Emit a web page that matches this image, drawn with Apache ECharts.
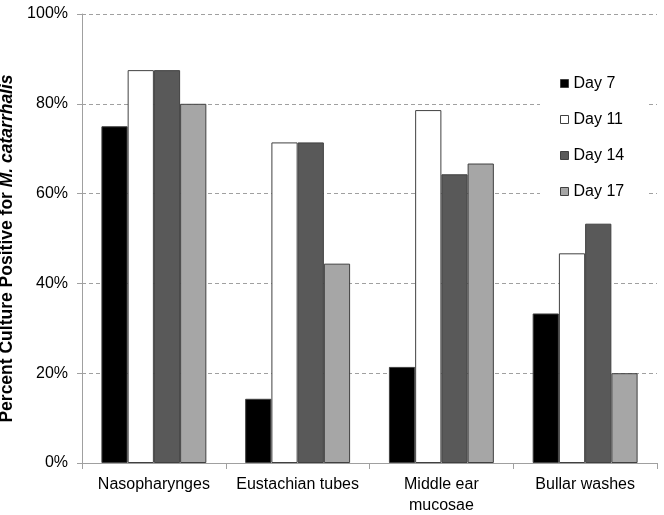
<!DOCTYPE html>
<html><head><meta charset="utf-8">
<script src="https://cdn.jsdelivr.net/npm/echarts@6/dist/echarts.min.js"></script>
<style>html,body{margin:0;padding:0;background:#fff}#c{width:664px;height:515px}</style>
</head><body><div id="c"></div>
<script>
const categories = ['Nasopharynges', 'Eustachian tubes', 'Middle ear\nmucosae', 'Bullar washes'];
const seriesNames = ['Day 7', 'Day 11', 'Day 14', 'Day 17'];
const day7 = [75.0, 14.3, 21.4, 33.3];
const day11 = [87.5, 71.4, 78.6, 46.7];
const day14 = [87.5, 71.4, 64.3, 53.3];
const day17 = [80.0, 44.4, 66.7, 20.0];
const yTicks = [0, 20, 40, 60, 80, 100];

const colors = ['#000000', '#ffffff', '#595959', '#a6a6a6'];
const values = [day7, day11, day14, day17];
const FONT = '"Liberation Sans", Arial, sans-serif';

const chart = echarts.init(document.getElementById('c'), null, {renderer: 'canvas'});
chart.setOption({
  animation: false,
  backgroundColor: '#fff',
  grid: {left: 82, right: 7, top: 14, bottom: 52, containLabel: false, outerBoundsMode: 'none'},
  legend: {
    orient: 'vertical', left: 540, top: 73,
    itemWidth: 8, itemHeight: 8, itemGap: 19, itemTextGap: 4,
    backgroundColor: '#fff', padding: [2, 22, 2, 20],
    textStyle: {fontFamily: FONT, fontSize: 16, color: '#000', height: 17, lineHeight: 17},
    data: seriesNames.map((n, i) => ({name: n, icon: 'rect', itemStyle: {color: colors[i], borderColor: '#404040', borderWidth: 1}}))
  },
  xAxis: {
    type: 'category', data: categories,
    axisLine: {lineStyle: {color: '#a0a0a0', width: 1}},
    axisTick: {show: true, length: 6, lineStyle: {color: '#a0a0a0'}},
    axisLabel: {interval: 0, fontFamily: FONT, fontSize: 16, color: '#000', margin: 11, lineHeight: 21}
  },
  yAxis: {
    type: 'value', min: 0, max: 100, interval: 20,
    name: '{b|Percent Culture Positive for }{bi|M. catarrhalis}',
    nameLocation: 'middle', nameGap: 61, nameRotate: 90,
    nameTextStyle: {padding: [0, 20, 0, 0], rich: {
      b: {fontFamily: FONT, fontSize: 17.5, fontWeight: 'bold', color: '#000'},
      bi: {fontFamily: FONT, fontSize: 17.5, fontWeight: 'bold', fontStyle: 'italic', color: '#000'}
    }},
    axisLine: {show: true, lineStyle: {color: '#a0a0a0', width: 1}},
    axisTick: {show: true, length: 5, lineStyle: {color: '#a0a0a0'}},
    axisLabel: {fontFamily: FONT, fontSize: 16, color: '#000', margin: 14, formatter: v => yTicks.includes(v) ? v + '%' : ''},
    splitLine: {show: true, lineStyle: {color: '#a0a0a0', type: [4, 3], width: 1}}
  },
  series: seriesNames.map((n, i) => ({
    name: n, type: 'bar', data: values[i],
    barGap: '0%', barCategoryGap: '27%',
    itemStyle: {color: colors[i], borderColor: '#404040', borderWidth: 1}
  }))
});
</script></body></html>
